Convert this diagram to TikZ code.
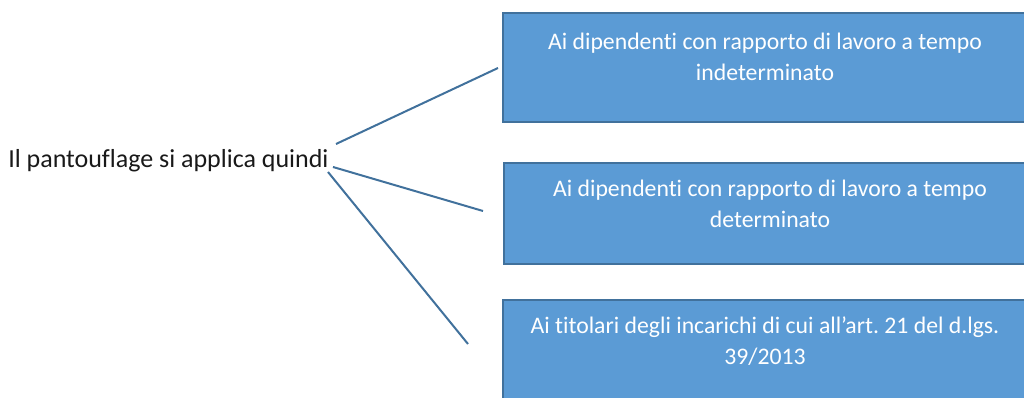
\documentclass[tikz,border=0pt]{standalone}
\usepackage{fontspec}
\setmainfont{Carlito}[RawFeature=-liga]
\frenchspacing
\definecolor{boxfill}{HTML}{5B9BD5}
\definecolor{boxedge}{HTML}{41719C}
\definecolor{linecol}{HTML}{41719C}
\begin{document}
\begin{tikzpicture}[x=0.75pt,y=-0.75pt,
  box/.style={draw=boxedge,line width=1.5pt,fill=boxfill},
  boxtext/.style={text=white,font=\fontsize{17.8}{23.2}\selectfont,align=center,anchor=north,inner sep=0pt},
  conn/.style={draw=linecol,line width=1.5pt}]
\useasboundingbox (0,0) rectangle (1024,398);
\clip (0,0) rectangle (1024,398);
% boxes
\path[box] (503,13) rectangle (1031,122);
\path[box] (504,163) rectangle (1031,264);
\path[box] (503,300) rectangle (1031,420);
\node[boxtext] (t1) at (765,33) {Ai dipendenti con rapporto di lavoro a tempo\\indeterminato};
\node[boxtext] (t2) at (770,180) {Ai dipendenti con rapporto di lavoro a tempo\\determinato};
\node[boxtext] (t3) at (765,317) {Ai titolari degli incarichi di cui all’art. 21 del d.lgs.\\39/2013};
\node[font=\fontsize{19.5}{23}\selectfont,anchor=west,inner sep=0pt,text=black!90] (lab) at (8,161) {Il pantouflage si applica quindi};
\coordinate (a1) at (336,144);
\coordinate (b1) at (498,68);
\coordinate (a2) at (333,167);
\coordinate (b2) at (483,211);
\coordinate (a3) at (328,172);
\coordinate (b3) at (468,344);
\draw[conn] (a1) -- (b1);
\draw[conn] (a2) -- (b2);
\draw[conn] (a3) -- (b3);
\end{tikzpicture}
\end{document}
